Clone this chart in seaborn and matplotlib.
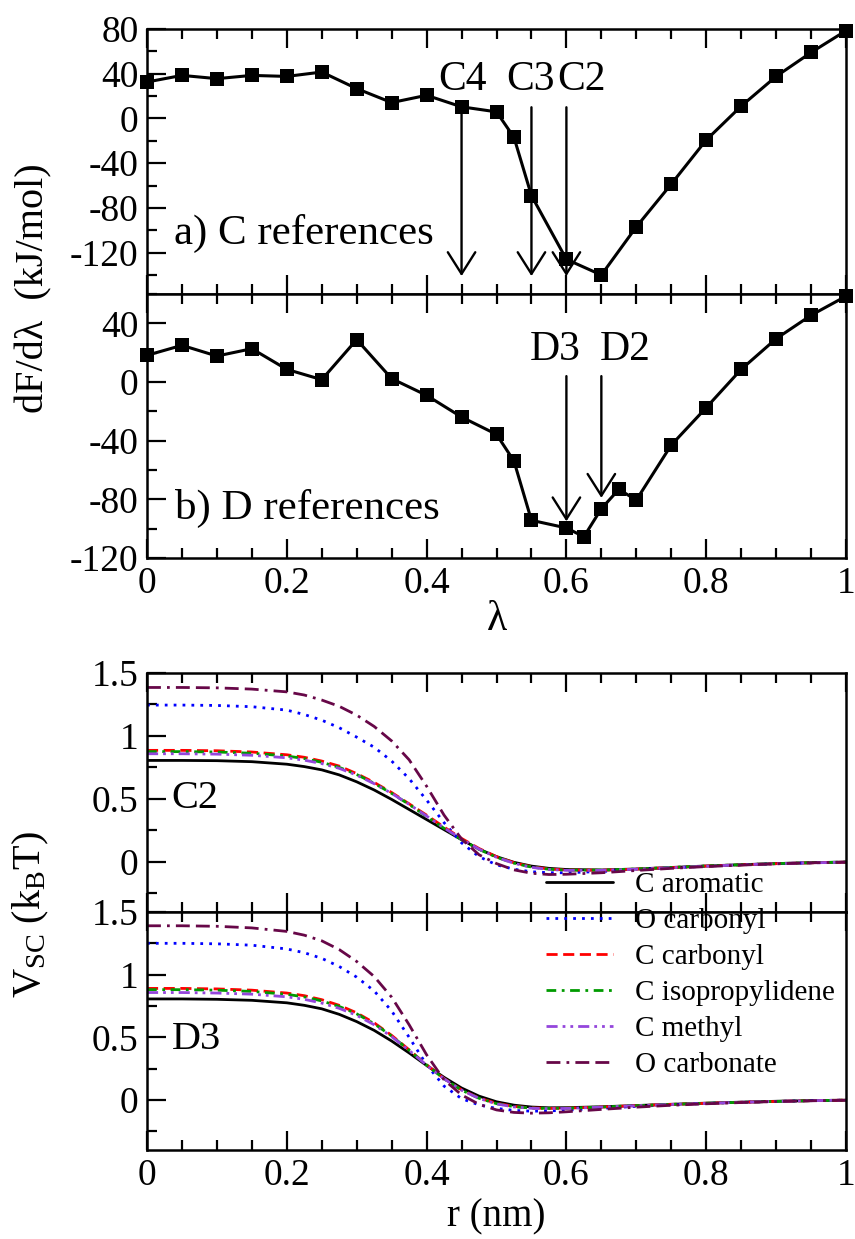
import numpy as np
import pandas as pd
import matplotlib
matplotlib.use("Agg")
import matplotlib.pyplot as plt
import seaborn as sns
from matplotlib.ticker import MultipleLocator, FuncFormatter

# ---------------- data ----------------
lam_C = [0, 0.05, 0.1, 0.15, 0.2, 0.25, 0.3, 0.35, 0.4, 0.45, 0.5, 0.525, 0.55,
         0.6, 0.65, 0.7, 0.75, 0.8, 0.85, 0.9, 0.95, 1.0]
dfdl_C = [32.6, 38.5, 35.6, 38.5, 37.6, 41.5, 26.7, 14.2, 20.7, 10.4, 5.9, -16.9, -69.0,
          -126.0, -140.0, -97.0, -58.7, -19.3, 11.0, 37.6, 59.0, 78.5]

lam_D = [0, 0.05, 0.1, 0.15, 0.2, 0.25, 0.3, 0.35, 0.4, 0.45, 0.5, 0.525, 0.55,
         0.6, 0.625, 0.65, 0.675, 0.7, 0.75, 0.8, 0.85, 0.9, 0.95, 1.0]
dfdl_D = [18.2, 25.0, 17.7, 22.7, 8.6, 1.6, 28.9, 2.3, -9.1, -23.9, -35.7, -53.9, -94.3,
          -99.5, -105.5, -86.4, -73.2, -80.5, -43.0, -17.5, 8.6, 29.5, 45.5, 58.5]

arrow_lbl_C = ["C4", "C3", "C2"]
arrow_x_C = [0.45, 0.55, 0.60]
arrow_lbl_D = ["D3", "D2"]
arrow_x_D = [0.60, 0.65]

r = [0, 0.05, 0.1, 0.15, 0.2, 0.225, 0.25, 0.275, 0.3, 0.325, 0.35, 0.375, 0.4, 0.425,
     0.45, 0.475, 0.5, 0.525, 0.55, 0.575, 0.6, 0.65, 0.7, 0.75, 0.8, 0.85, 0.9, 0.95, 1.0]

series_names = ["C aromatic", "O carbonyl", "C carbonyl", "C isopropylidene",
                "C methyl", "O carbonate"]

# panel C2
c2_C_aromatic = [0.805, 0.805, 0.803, 0.795, 0.775, 0.756, 0.73, 0.69, 0.635, 0.57, 0.495,
                 0.415, 0.335, 0.255, 0.175, 0.10, 0.04, -0.005, -0.035, -0.053, -0.062,
                 -0.066, -0.058, -0.046, -0.034, -0.024, -0.015, -0.008, -0.003]
c2_O_carbonyl = [1.245, 1.245, 1.242, 1.232, 1.205, 1.17, 1.125, 1.065, 0.99, 0.91, 0.80,
                 0.66, 0.49, 0.31, 0.15, 0.04, -0.025, -0.06, -0.08, -0.088, -0.088,
                 -0.078, -0.064, -0.049, -0.036, -0.025, -0.016, -0.009, -0.004]
c2_C_carbonyl = [0.885, 0.885, 0.882, 0.872, 0.85, 0.83, 0.80, 0.76, 0.70, 0.63, 0.55,
                 0.46, 0.37, 0.275, 0.185, 0.105, 0.04, -0.008, -0.04, -0.058, -0.066,
                 -0.068, -0.059, -0.047, -0.035, -0.025, -0.016, -0.009, -0.004]
c2_C_isoprop = [0.875, 0.875, 0.872, 0.862, 0.84, 0.82, 0.79, 0.75, 0.693, 0.623, 0.543,
                0.455, 0.36, 0.265, 0.175, 0.098, 0.035, -0.012, -0.043, -0.06, -0.067,
                -0.067, -0.058, -0.046, -0.034, -0.024, -0.015, -0.008, -0.003]
c2_C_methyl = [0.858, 0.858, 0.855, 0.846, 0.826, 0.807, 0.78, 0.742, 0.688, 0.62, 0.543,
               0.456, 0.363, 0.268, 0.18, 0.10, 0.035, -0.013, -0.045, -0.062, -0.069,
               -0.069, -0.06, -0.048, -0.036, -0.025, -0.016, -0.009, -0.004]
c2_O_carbonate = [1.385, 1.385, 1.382, 1.372, 1.35, 1.325, 1.285, 1.235, 1.165, 1.075, 0.96,
                  0.81, 0.60, 0.37, 0.18, 0.055, -0.015, -0.065, -0.092, -0.102, -0.10,
                  -0.088, -0.07, -0.053, -0.039, -0.027, -0.017, -0.009, -0.004]

# panel D3
d3_C_aromatic = [0.806, 0.806, 0.803, 0.795, 0.775, 0.755, 0.727, 0.683, 0.625, 0.555, 0.47,
                 0.375, 0.275, 0.18, 0.095, 0.03, -0.015, -0.042, -0.057, -0.063, -0.062,
                 -0.055, -0.045, -0.035, -0.026, -0.018, -0.011, -0.006, -0.002]
d3_O_carbonyl = [1.25, 1.25, 1.246, 1.235, 1.205, 1.175, 1.13, 1.065, 0.98, 0.87, 0.71,
                 0.50, 0.28, 0.11, 0.01, -0.04, -0.068, -0.084, -0.09, -0.088, -0.082,
                 -0.067, -0.052, -0.039, -0.028, -0.019, -0.012, -0.006, -0.002]
d3_C_carbonyl = [0.89, 0.89, 0.886, 0.876, 0.853, 0.832, 0.80, 0.755, 0.695, 0.615, 0.515,
                 0.40, 0.28, 0.17, 0.08, 0.015, -0.027, -0.052, -0.064, -0.068, -0.066,
                 -0.057, -0.046, -0.036, -0.027, -0.019, -0.012, -0.006, -0.002]
d3_C_isoprop = [0.88, 0.88, 0.876, 0.866, 0.843, 0.822, 0.79, 0.746, 0.687, 0.608, 0.51,
                0.397, 0.278, 0.168, 0.078, 0.013, -0.03, -0.054, -0.065, -0.068, -0.066,
                -0.057, -0.046, -0.036, -0.027, -0.019, -0.012, -0.006, -0.002]
d3_C_methyl = [0.857, 0.857, 0.853, 0.844, 0.823, 0.803, 0.773, 0.731, 0.675, 0.60, 0.505,
               0.395, 0.278, 0.168, 0.078, 0.012, -0.032, -0.056, -0.067, -0.07, -0.068,
               -0.058, -0.047, -0.037, -0.028, -0.019, -0.012, -0.006, -0.002]
d3_O_carbonate = [1.39, 1.39, 1.386, 1.373, 1.345, 1.315, 1.27, 1.20, 1.105, 0.985, 0.82,
                  0.60, 0.36, 0.16, 0.04, -0.035, -0.08, -0.10, -0.106, -0.103, -0.095,
                  -0.076, -0.058, -0.043, -0.031, -0.021, -0.013, -0.007, -0.003]

# ---------------- style ----------------
sns.set_style("ticks")
plt.rcParams["font.family"] = ["Liberation Serif", "DejaVu Serif"]
plt.rcParams["mathtext.fontset"] = "custom"
plt.rcParams["mathtext.rm"] = "Liberation Serif"
plt.rcParams["mathtext.it"] = "Liberation Serif:italic"
plt.rcParams["axes.unicode_minus"] = False
for key in ["text.color", "axes.labelcolor", "xtick.color", "ytick.color",
            "axes.edgecolor", "xtick.labelcolor", "ytick.labelcolor"]:
    plt.rcParams[key] = "black"

colors = ["#000000", "#0000ff", "#ff0000", "#009a00", "#9446dc", "#670748"]
dashes = ["-", (0, (1, 2.2)), (0, (4, 2)), (0, (3.5, 2, 1, 2)),
          (0, (4, 1.8, 1, 1.8, 1, 1.8)), (0, (5, 2.2, 1, 2.2, 5, 2.2))]

W_PX, H_PX = 855, 1239
fig = plt.figure(figsize=(W_PX / 100, H_PX / 100), dpi=100)
fig.patch.set_facecolor("white")
L, R = 147, 846


def rect(top, bot):
    return [L / W_PX, 1 - bot / H_PX, (R - L) / W_PX, (bot - top) / H_PX]


ax_a = fig.add_axes(rect(29, 294))
ax_b = fig.add_axes(rect(294, 558))
ax_c = fig.add_axes(rect(673, 912))
ax_d = fig.add_axes(rect(912, 1150))

TICK_FS = 27
fmt = FuncFormatter(lambda v, p: "%g" % v)


def style_axes(ax, xlabels, ymaj, ymin, ylim, yhide=()):
    ax.set_xlim(0, 1)
    ax.set_ylim(*ylim)
    ax.xaxis.set_major_locator(MultipleLocator(0.2))
    ax.xaxis.set_minor_locator(MultipleLocator(0.05))
    ax.yaxis.set_major_locator(MultipleLocator(ymaj))
    ax.yaxis.set_minor_locator(MultipleLocator(ymin))
    ax.xaxis.set_major_formatter(fmt)

    def yf(v, p):
        for h in yhide:
            if abs(v - h) < 1e-9:
                return ""
        return "%g" % v
    ax.yaxis.set_major_formatter(FuncFormatter(yf))
    ax.tick_params(which="both", direction="in", top=True, right=False,
                   bottom=True, left=True, labelsize=TICK_FS, width=1.6, pad=6,
                   color="black", labelcolor="black")
    ax.tick_params(which="major", length=14)
    ax.tick_params(which="minor", length=7)
    if not xlabels:
        ax.tick_params(labelbottom=False)
    for s in ax.spines.values():
        s.set_linewidth(1.8)
        s.set_color("black")
    ax.set_xlabel("")
    ax.set_ylabel("")


# ---------------- top: dF/dlambda ----------------
for ax, xs, ys in [(ax_a, lam_C, dfdl_C), (ax_b, lam_D, dfdl_D)]:
    sns.lineplot(x=xs, y=ys, ax=ax, color="black", linewidth=2.2, marker="s",
                 markersize=9.5, markeredgewidth=0, sort=False, estimator=None,
                 errorbar=None, clip_on=False, zorder=3)

style_axes(ax_a, False, 40, 20, (-157, 80), yhide=(-160,))
style_axes(ax_b, True, 40, 20, (-120, 60))

arrow_style = dict(arrowstyle="->,head_length=0.6,head_width=0.38", lw=1.7,
                   color="black", mutation_scale=26, shrinkA=0, shrinkB=0)
for lbl, x in zip(arrow_lbl_C, arrow_x_C):
    ax_a.annotate("", xy=(x, -141), xytext=(x, 10), arrowprops=arrow_style, zorder=4)
ax_a.text(0.452, 35, "C4", fontsize=30, ha="center", va="center")
ax_a.text(0.548, 35, "C3", fontsize=30, ha="center", va="center")
ax_a.text(0.622, 35, "C2", fontsize=30, ha="center", va="center")
ax_a.text(0.038, -103, "a) C references", fontsize=31, ha="left", va="center")

ax_b.annotate("", xy=(arrow_x_D[0], -95), xytext=(arrow_x_D[0], 4), arrowprops=arrow_style, zorder=4)
ax_b.annotate("", xy=(arrow_x_D[1], -79), xytext=(arrow_x_D[1], 4), arrowprops=arrow_style, zorder=4)
ax_b.text(0.584, 22, arrow_lbl_D[0], fontsize=30, ha="center", va="center")
ax_b.text(0.684, 22, arrow_lbl_D[1], fontsize=30, ha="center", va="center")
ax_b.text(0.040, -86, "b) D references", fontsize=31, ha="left", va="center")

ax_b.set_xlabel("λ", fontsize=30, labelpad=0)
fig.text(34 / W_PX, 1 - 288 / H_PX, "dF/dλ  (kJ/mol)", rotation=90, fontsize=29,
         ha="center", va="center")

# ---------------- bottom: V_SC(r) ----------------
c2_sets = [c2_C_aromatic, c2_O_carbonyl, c2_C_carbonyl, c2_C_isoprop, c2_C_methyl, c2_O_carbonate]
d3_sets = [d3_C_aromatic, d3_O_carbonyl, d3_C_carbonyl, d3_C_isoprop, d3_C_methyl, d3_O_carbonate]

for i, name in enumerate(series_names):
    sns.lineplot(x=r, y=c2_sets[i], ax=ax_c, color=colors[i], linestyle=dashes[i],
                 linewidth=2.0, sort=False, estimator=None, errorbar=None, legend=False)
    sns.lineplot(x=r, y=d3_sets[i], ax=ax_d, color=colors[i], linestyle=dashes[i],
                 linewidth=2.0, sort=False, estimator=None, errorbar=None, label=name)

style_axes(ax_c, False, 0.5, 0.25, (-0.4, 1.5))
style_axes(ax_d, True, 0.5, 0.25, (-0.4, 1.5))
ax_c.text(0.035, 0.5, "C2", fontsize=29, ha="left", va="center")
ax_d.text(0.035, 0.48, "D3", fontsize=29, ha="left", va="center")

leg = ax_d.legend(loc="upper left", bbox_to_anchor=(0.571, 1.17), frameon=False,
                  fontsize=21, handlelength=2.3, handletextpad=0.75, labelspacing=0.33,
                  borderpad=0, borderaxespad=0)
leg.set_zorder(10)
for t in leg.get_texts():
    t.set_color("black")

ax_d.set_xlabel("r (nm)", fontsize=28, labelpad=4)
fig.text(31 / W_PX, 1 - 915 / H_PX, r"V$_{\rm SC}$ (k$_{\rm B}$T)", rotation=90,
         fontsize=29, ha="center", va="center")

fig.savefig("out.png", dpi=100, facecolor="white")
